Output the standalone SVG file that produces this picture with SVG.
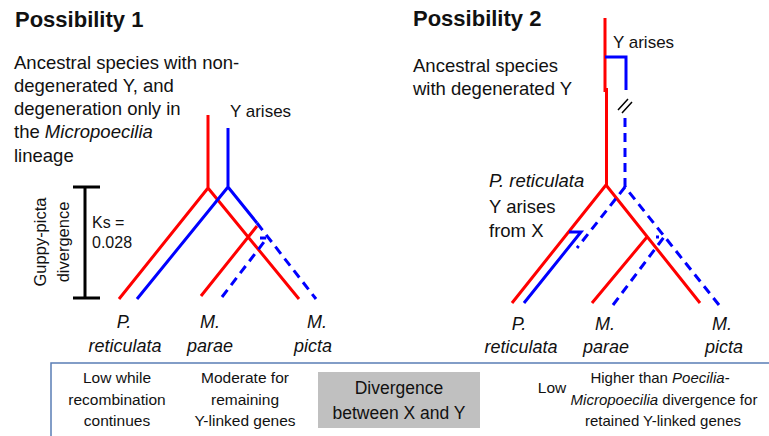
<svg xmlns="http://www.w3.org/2000/svg" width="769" height="436" viewBox="0 0 769 436">
<style>
text{font-family:"Liberation Sans",Arial,sans-serif;fill:#111;}
.title{font-size:22px;font-weight:bold;}
.body{font-size:18.5px;}
.lab{font-size:18px;font-style:italic;}
.sm{font-size:15.5px;}
.smr{font-size:15px;}
.mid{text-anchor:middle;}
.r{stroke:#ff0000;stroke-width:3;fill:none;}
.b{stroke:#0000ff;stroke-width:3;fill:none;}
.bd{stroke:#0000ff;stroke-width:3;fill:none;stroke-dasharray:9 6;}
.k{stroke:#000;stroke-width:3;fill:none;}
</style>
<rect width="769" height="436" fill="#fff"/>
<g id="possibility1">
<text class="title" x="15" y="27">Possibility 1</text>
<text class="body" x="14" y="69">Ancestral species with non-</text>
<text class="body" x="14" y="92">degenerated Y, and</text>
<text class="body" x="14" y="115">degeneration only in</text>
<text class="body" x="14" y="138">the <tspan font-style="italic">Micropoecilia</tspan></text>
<text class="body" x="14" y="162">lineage</text>
<text class="body" x="230" y="117" style="font-size:17px">Y arises</text>
</g>
<g id="scale-bar">
<path class="k" d="M85 187V298M73 187H100M73 298H100"/>
<text class="mid" style="font-size:16.5px" transform="translate(46 242) rotate(-90)">Guppy-picta</text>
<text class="mid" style="font-size:16.5px" transform="translate(69 242) rotate(-90)">divergence</text>
<text x="92" y="228" style="font-size:16px">Ks =</text>
<text x="92" y="248" style="font-size:16px">0.028</text>
</g>
<g id="connectors">
<path class="r" d="M208 115V188M208 188L119 299M208 188L299 299M201 296L257 226"/>
<path class="b" d="M228 128V187M228 187L137 299M228 187L257 223"/>
<path class="bd" d="M257 223L316 299"/>
<path class="bd" d="M222 297L267 238L260 238"/>
<path class="r" d="M605 18V92M606.5 88V185M606 185L512 303M606 185L700 303M592 303L647 237"/>
<path class="b" d="M605 57H626V90"/>
<path class="k" d="M618 110L628 99M622 113L632 102" style="stroke-width:1.5"/>
<path class="bd" d="M625 118V187"/>
<path class="bd" d="M719 305L625 187M625 187L577 248"/>
<path class="b" d="M569 232H581L524 303"/>
<path class="bd" d="M613 305L664 237L656 237"/>
</g>
<g id="labels1">
<text class="lab mid" x="124" y="328">P.</text>
<text class="lab mid" x="125" y="352">reticulata</text>
<text class="lab mid" x="210" y="328">M.</text>
<text class="lab mid" x="210" y="352">parae</text>
<text class="lab mid" x="317" y="328">M.</text>
<text class="lab mid" x="313" y="352">picta</text>
</g>
<g id="possibility2">
<text class="title" x="413" y="26">Possibility 2</text>
<text class="body" x="613" y="48" style="font-size:17px">Y arises</text>
<text class="body" x="413" y="72">Ancestral species</text>
<text class="body" x="413" y="95">with degenerated Y</text>
<text class="body" x="489" y="187"><tspan font-style="italic">P. reticulata</tspan></text>
<text class="body" x="489" y="213">Y arises</text>
<text class="body" x="489" y="237">from X</text>
</g>
<g id="labels2">
<text class="lab mid" x="519" y="330">P.</text>
<text class="lab mid" x="521" y="353">reticulata</text>
<text class="lab mid" x="605" y="330">M.</text>
<text class="lab mid" x="606" y="353">parae</text>
<text class="lab mid" x="722" y="330">M.</text>
<text class="lab mid" x="724" y="353">picta</text>
</g>
<g id="table">
<rect x="51" y="363" width="730" height="90" fill="none" stroke="#5a7db5" stroke-width="1.5"/>
<text class="sm mid" x="117" y="383">Low while</text>
<text class="sm mid" x="117" y="405">recombination</text>
<text class="sm mid" x="117" y="426">continues</text>
<text class="sm mid" x="245" y="383">Moderate for</text>
<text class="sm mid" x="245" y="405">remaining</text>
<text class="sm mid" x="245" y="426">Y-linked genes</text>
<rect x="318" y="372" width="162" height="56" fill="#c0c0c0"/>
<text class="mid" x="399" y="394" style="font-size:17.5px">Divergence</text>
<text class="mid" x="399" y="419" style="font-size:17.5px">between X and Y</text>
<text class="sm mid" x="552" y="393">Low</text>
<text class="smr mid" x="660" y="383">Higher than <tspan font-style="italic">Poecilia-</tspan></text>
<text class="smr mid" x="664" y="405"><tspan font-style="italic">Micropoecilia</tspan> divergence for</text>
<text class="smr mid" x="663" y="426">retained Y-linked genes</text>
</g>
</svg>
